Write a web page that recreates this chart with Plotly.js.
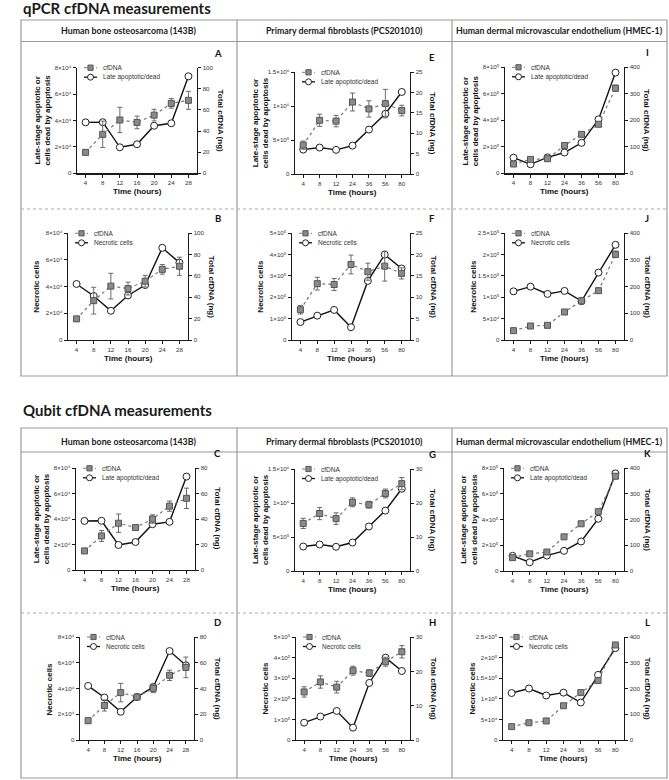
<!DOCTYPE html>
<html><head><meta charset="utf-8">
<script src="https://cdn.plot.ly/plotly-3.0.1.min.js"></script>
<style>body{margin:0;background:#fff}#chart{width:669px;height:780px}</style>
</head><body><div id="chart"></div>
<script>
// ---------- DATA ----------
const hours143B = ['4','8','12','16','20','24','28'];
const hoursPCS  = ['4','8','12','24','36','56','80'];
const hoursHMEC = ['4','8','12','24','36','56','80'];

// cell counts (same cell data shown in qPCR and Qubit blocks)
const late143B = [38600, 38700, 19700, 22000, 36000, 37900, 73500];
const necr143B = [42000, 33000, 21900, 33400, 41200, 69100, 58000];
const latePCS  = [360000, 390000, 356000, 419000, 655000, 888000, 1210000];
const necrPCS  = [84000, 114000, 141000, 60000, 277000, 400000, 335000];
const lateHMEC = [118000, 68000, 120000, 157000, 230000, 407000, 760000];
const necrHMEC = [114000, 125000, 108000, 115000, 91000, 158000, 223000];

// cfDNA (ng) mean and error
const qpcr143B    = [19.8, 36.9, 50.5, 48.2, 55.1, 66.2, 69.1];
const qpcr143B_sd = [2, 12.5, 12, 6, 5.5, 4.5, 8.5];
const qpcrPCS     = [7.1, 13.2, 13.0, 17.7, 16.0, 17.3, 15.6];
const qpcrPCS_sd  = [1.0, 1.5, 1.4, 2.2, 2.0, 3.5, 1.3];
const qpcrHMEC    = [35, 52.5, 55, 105, 147, 185, 321];
const qpcrHMEC_sd = [3, 5, 5, 8, 8, 6, 12];
const qubit143B    = [15.0, 26.8, 36.8, 33.4, 40.1, 50.2, 56.4];
const qubit143B_sd = [2, 4.3, 7.2, 1, 3.3, 4, 8];
const qubitPCS     = [14.0, 16.9, 15.4, 20.2, 19.5, 22.8, 25.7];
const qubitPCS_sd  = [1.5, 1.8, 1.7, 1.3, 1.0, 1.3, 1.8];
const qubitHMEC    = [52, 67, 74, 133, 184, 231, 369];
const qubitHMEC_sd = [4, 4, 4, 7, 5, 8, 9];

// tick labels
const ticks8e4 = [0, 2e4, 4e4, 6e4, 8e4];
const ticks8e4Text = ['0','2×10⁴','4×10⁴','6×10⁴','8×10⁴'];
const ticks15e5 = [0, 5e5, 1e6, 1.5e6];
const ticks15e5Text = ['0','5×10⁵','1×10⁶','1.5×10⁶'];
const ticks8e5 = [0, 2e5, 4e5, 6e5, 8e5];
const ticks8e5Text = ['0','2×10⁵','4×10⁵','6×10⁵','8×10⁵'];
const ticks5e5 = [0, 1e5, 2e5, 3e5, 4e5, 5e5];
const ticks5e5Text = ['0','1×10⁵','2×10⁵','3×10⁵','4×10⁵','5×10⁵'];
const ticks25e5 = [0, 5e4, 1e5, 1.5e5, 2e5, 2.5e5];
const ticks25e5Text = ['0','5×10⁴','1×10⁵','1.5×10⁵','2×10⁵','2.5×10⁵'];

const lateTitle = 'Late-stage apoptotic or<br>cells dead by apoptosis';
const necrTitle = 'Necrotic cells';
const cfTitle = 'Total cfDNA (ng)';
const xTitle = 'Time (hours)';
const cellLines = ['Human bone osteosarcoma (143B)', 'Primary dermal fibroblasts (PCS201010)', 'Human dermal microvascular endothelium (HMEC-1)'];
const sectionTitles = ['qPCR cfDNA measurements', 'Qubit cfDNA measurements'];

// ---------- PANELS (data refs + layout boxes [left,right,top,bottom] px) ----------
const panels = [
 {id:'A', x:hours143B, cells:late143B, cf:qpcr143B, sd:qpcr143B_sd, name:'Late apoptotic/dead', yt:lateTitle, tv:ticks8e4, tt:ticks8e4Text, ymax:8e4, y2max:100, y2d:20, box:[77,197,67.7,173.3]},
 {id:'E', x:hoursPCS, cells:latePCS, cf:qpcrPCS, sd:qpcrPCS_sd, name:'Late apoptotic/dead', yt:lateTitle, tv:ticks15e5, tt:ticks15e5Text, ymax:1.5e6, y2max:25, y2d:5, box:[295,410,72.3,174]},
 {id:'I', x:hoursHMEC, cells:lateHMEC, cf:qpcrHMEC, sd:qpcrHMEC_sd, name:'Late apoptotic/dead', yt:lateTitle, tv:ticks8e5, tt:ticks8e5Text, ymax:8e5, y2max:400, y2d:100, box:[505,624,67.3,173.3]},
 {id:'B', x:hours143B, cells:necr143B, cf:qpcr143B, sd:qpcr143B_sd, name:'Necrotic cells', yt:necrTitle, tv:ticks8e4, tt:ticks8e4Text, ymax:8e4, y2max:100, y2d:20, box:[68,188,233.3,340]},
 {id:'F', x:hoursPCS, cells:necrPCS, cf:qpcrPCS, sd:qpcrPCS_sd, name:'Necrotic cells', yt:necrTitle, tv:ticks5e5, tt:ticks5e5Text, ymax:5e5, y2max:25, y2d:5, box:[292,410,233.3,340]},
 {id:'J', x:hoursHMEC, cells:necrHMEC, cf:qpcrHMEC, sd:qpcrHMEC_sd, name:'Necrotic cells', yt:necrTitle, tv:ticks25e5, tt:ticks25e5Text, ymax:2.5e5, y2max:400, y2d:100, box:[505,624,233.3,340]},
 {id:'C', x:hours143B, cells:late143B, cf:qubit143B, sd:qubit143B_sd, name:'Late apoptotic/dead', yt:lateTitle, tv:ticks8e4, tt:ticks8e4Text, ymax:8e4, y2max:80, y2d:20, box:[76,195,468.3,570]},
 {id:'G', x:hoursPCS, cells:latePCS, cf:qubitPCS, sd:qubitPCS_sd, name:'Late apoptotic/dead', yt:lateTitle, tv:ticks15e5, tt:ticks15e5Text, ymax:1.5e6, y2max:30, y2d:10, box:[295,410,469,571]},
 {id:'K', x:hoursHMEC, cells:lateHMEC, cf:qubitHMEC, sd:qubitHMEC_sd, name:'Late apoptotic/dead', yt:lateTitle, tv:ticks8e5, tt:ticks8e5Text, ymax:8e5, y2max:400, y2d:100, box:[504,624,468.3,571]},
 {id:'D', x:hours143B, cells:necr143B, cf:qubit143B, sd:qubit143B_sd, name:'Necrotic cells', yt:necrTitle, tv:ticks8e4, tt:ticks8e4Text, ymax:8e4, y2max:80, y2d:20, box:[80,194,637,740]},
 {id:'H', x:hoursPCS, cells:necrPCS, cf:qubitPCS, sd:qubitPCS_sd, name:'Necrotic cells', yt:necrTitle, tv:ticks5e5, tt:ticks5e5Text, ymax:5e5, y2max:30, y2d:10, box:[296,410,637,740]},
 {id:'L', x:hoursHMEC, cells:necrHMEC, cf:qubitHMEC, sd:qubitHMEC_sd, name:'Necrotic cells', yt:necrTitle, tv:ticks25e5, tt:ticks25e5Text, ymax:2.5e5, y2max:400, y2d:100, box:[503,624,637,740]}
];

// ---------- BUILD ----------
const W = 669, H = 780;
const px = x => x / W, py = y => 1 - y / H;
const AX = 'Liberation Sans, Arial, DejaVu Sans, sans-serif';
const HF = 'Lato, Carlito, sans-serif';
const data = [], annotations = [], shapes = [];
const layout = {
  width: W, height: H, autosize: false, showlegend: false,
  margin: {l:0, r:0, t:0, b:0}, paper_bgcolor:'#fff', plot_bgcolor:'rgba(0,0,0,0)',
  font: {family: AX, color:'#222'}
};
const axCommon = {showline:true, linecolor:'#1a1a1a', linewidth:1.4, ticks:'outside', ticklen:3, tickwidth:1,
  tickcolor:'#1a1a1a', showgrid:false, zeroline:false, fixedrange:true,
  tickfont:{family:AX, size:6.2, color:'#333'}};

panels.forEach((p, k) => {
  const i = k + 1, yl = 2*i - 1, yr = 2*i;
  const [L, R, T, B] = p.box;
  const xs = 'x' + i;
  layout['xaxis' + i] = Object.assign({}, axCommon, {domain:[px(L), px(R)], anchor:'y'+yl, type:'category',
    range:[-0.5, 6.5], ticklabelstandoff:0});
  layout['yaxis' + yl] = Object.assign({}, axCommon, {domain:[py(B), py(T)], anchor:xs, range:[0, p.ymax],
    tickmode:'array', tickvals:p.tv, ticktext:p.tt});
  layout['yaxis' + yr] = Object.assign({}, axCommon, {overlaying:'y'+yl, side:'right', anchor:xs,
    range:[0, p.y2max], dtick:p.y2d, tick0:0});
  data.push({x:p.x, y:p.cells, xaxis:xs, yaxis:'y'+yl, type:'scatter', mode:'lines+markers', cliponaxis:false,
    line:{color:'#111', width:1.4}, marker:{symbol:'circle', size:7, color:'#fff', line:{color:'#222', width:1}},
    name:p.name});
  data.push({x:p.x, y:p.cf, xaxis:xs, yaxis:'y'+yr, type:'scatter', mode:'lines+markers', cliponaxis:false,
    line:{color:'#777', width:1.2, dash:'dot'},
    marker:{symbol:'square', size:6, color:'#8a8a8a', line:{color:'#555', width:1}},
    error_y:{type:'data', array:p.sd, visible:true, color:'#6a6a6a', thickness:1, width:2.5},
    name:'cfDNA'});
  // axis titles
  annotations.push({xref:'paper', yref:'paper', x:px(p.yt === lateTitle ? L-35 : L-31), y:py((T+B)/2),
    text:p.yt, textangle:-90, showarrow:false, xanchor:'center', yanchor:'middle',
    font:{family:AX, size:8, color:'#111', weight:'bold'}});
  annotations.push({xref:'paper', yref:'paper', x:px(R+23), y:py((T+B)/2), text:cfTitle, textangle:90,
    showarrow:false, xanchor:'center', yanchor:'middle', font:{family:AX, size:8, color:'#111', weight:'bold'}});
  annotations.push({xref:'paper', yref:'paper', x:px((L+R)/2), y:py(B+18.5), text:xTitle, showarrow:false,
    xanchor:'center', yanchor:'middle', font:{family:AX, size:8, color:'#111', weight:'bold'}});
  // panel letter
  const colIdx = k % 3;
  annotations.push({xref:'paper', yref:'paper', x:px([218,432,647][colIdx]), y:py(T-14.5), text:p.id,
    showarrow:false, xanchor:'center', yanchor:'middle', font:{family:HF, size:9.5, color:'#111', weight:'bold'}});
  // legend (custom compact)
  const lx0 = L + 7, lx1 = L + 20, lxm = (lx0 + lx1) / 2, ly1 = T, ly2 = T + 9.5;
  shapes.push({type:'line', xref:'paper', yref:'paper', x0:px(lx0), x1:px(lx1), y0:py(ly1), y1:py(ly1),
    line:{color:'#777', width:1, dash:'dot'}});
  shapes.push({type:'rect', xref:'paper', yref:'paper', x0:px(lxm-2.6), x1:px(lxm+2.6), y0:py(ly1+2.6), y1:py(ly1-2.6),
    fillcolor:'#8a8a8a', line:{color:'#555', width:1}});
  shapes.push({type:'line', xref:'paper', yref:'paper', x0:px(lx0), x1:px(lx1), y0:py(ly2), y1:py(ly2),
    line:{color:'#111', width:1.3}});
  shapes.push({type:'circle', xref:'paper', yref:'paper', x0:px(lxm-3), x1:px(lxm+3), y0:py(ly2+3), y1:py(ly2-3),
    fillcolor:'#fff', line:{color:'#222', width:1}});
  annotations.push({xref:'paper', yref:'paper', x:px(L+24), y:py(ly1), text:'cfDNA', showarrow:false,
    xanchor:'left', yanchor:'middle', font:{family:AX, size:6.5, color:'#333'}});
  annotations.push({xref:'paper', yref:'paper', x:px(L+24), y:py(ly2), text:p.name, showarrow:false,
    xanchor:'left', yanchor:'middle', font:{family:AX, size:6.5, color:'#333'}});
});

// frames
const boxes = [{top:20, head:41.5, dash:209, bottom:376, titleY:8, headY:31},
               {top:428, head:452, dash:613, bottom:778, titleY:410, headY:441}];
const fl = 21, fr = 667, dividers = [237, 452];
boxes.forEach((b, j) => {
  const ln = {color:'#9a9a9a', width:1.2};
  shapes.push({type:'rect', xref:'paper', yref:'paper', x0:px(fl), x1:px(fr), y0:py(b.bottom), y1:py(b.top), line:ln});
  shapes.push({type:'line', xref:'paper', yref:'paper', x0:px(fl), x1:px(fr), y0:py(b.head), y1:py(b.head), line:ln});
  dividers.forEach(d => shapes.push({type:'line', xref:'paper', yref:'paper', x0:px(d), x1:px(d), y0:py(b.top), y1:py(b.bottom), line:ln}));
  shapes.push({type:'line', xref:'paper', yref:'paper', x0:px(fl), x1:px(fr), y0:py(b.dash), y1:py(b.dash),
    line:{color:'#aaa', width:1, dash:'dot'}});
  annotations.push({xref:'paper', yref:'paper', x:px(fl), y:py(b.titleY), text:sectionTitles[j], showarrow:false,
    xanchor:'left', yanchor:'middle', font:{family:HF, size:15, color:'#1a1a1a', weight:'bold'}});
  const cols = [fl, dividers[0], dividers[1], fr];
  cellLines.forEach((c, m) => annotations.push({xref:'paper', yref:'paper', x:px((cols[m]+cols[m+1])/2), y:py(b.headY),
    text:c, showarrow:false, xanchor:'center', yanchor:'middle', font:{family:HF, size:8.8, color:'#1a1a1a', weight:'bold'}}));
});

layout.annotations = annotations;
layout.shapes = shapes;
Plotly.newPlot('chart', data, layout, {staticPlot:true, displayModeBar:false});
</script></body></html>
